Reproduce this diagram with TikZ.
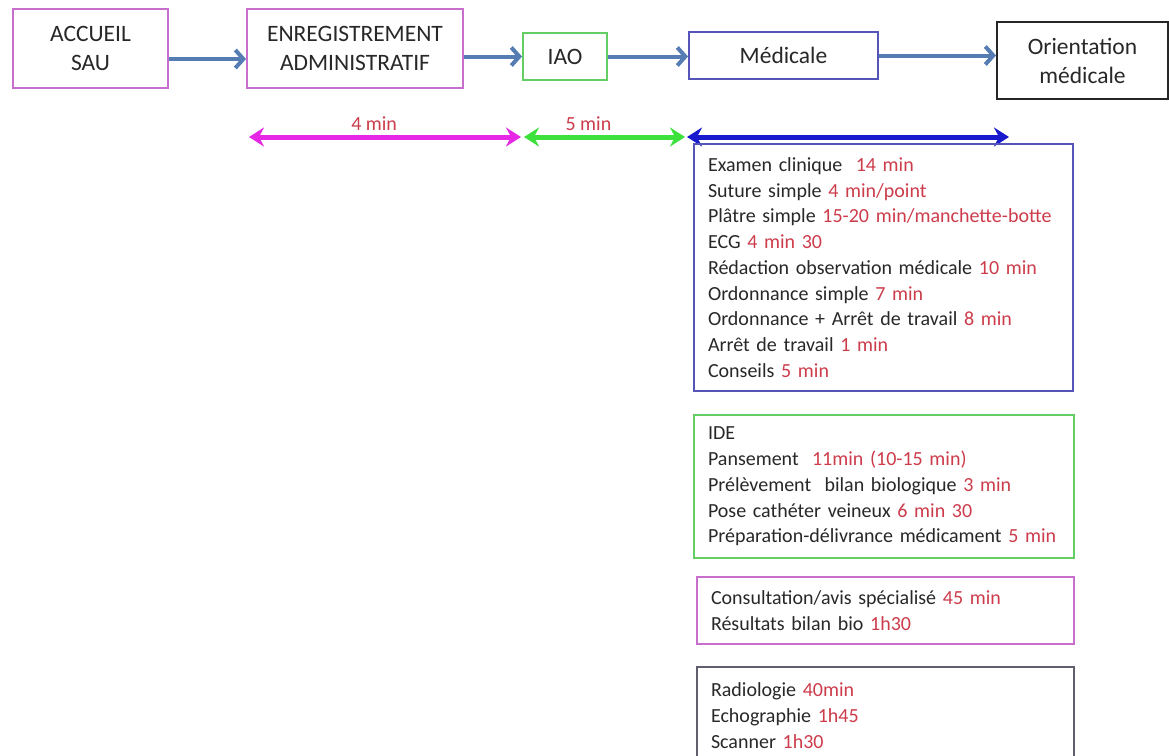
\documentclass[tikz,border=0pt]{standalone}
\usepackage{fontspec}
\setmainfont{Carlito}
\usetikzlibrary{arrows.meta}

\definecolor{boxpink}{RGB}{200,110,205}
\definecolor{boxgreen}{RGB}{100,205,100}
\definecolor{boxblue}{RGB}{85,85,185}
\definecolor{boxgrey}{RGB}{95,95,110}
\definecolor{flowblue}{RGB}{85,125,180}
\definecolor{spanpink}{RGB}{230,40,230}
\definecolor{spangreen}{RGB}{60,225,60}
\definecolor{spanblue}{RGB}{25,25,205}
\definecolor{durred}{RGB}{205,60,75}
\definecolor{txtgrey}{RGB}{40,40,40}

\def\dur#1{\textcolor{durred}{#1}}

\tikzset{
  stagebox/.style={draw, line width=2pt, align=center, text=txtgrey, inner sep=0pt,
    font=\fontsize{23.5}{29}\selectfont},
  listbox/.style={draw, line width=2pt, anchor=north west, align=left, text=txtgrey,
    inner xsep=14pt, inner ysep=0pt, font=\fontsize{20}{25.7}\selectfont},
  flowarrow/.style={flowblue, line width=4pt, -{Straight Barb[length=8pt,width=18pt]}},
  timespan/.style={line width=5pt, {Stealth[length=15pt,width=19pt,inset=5pt]}-{Stealth[length=15pt,width=19pt,inset=5pt]}},
  timelabel/.style={text=durred, font=\fontsize{20}{24}\selectfont, above=1pt}
}

\begin{document}
\begin{tikzpicture}[x=1pt, y=-1pt]
	%%%%% START %%%%%
	\clip (0,0) rectangle (1169,755);
	\fill[white] (0,0) rectangle (1169,755);

	\node[stagebox, draw=boxpink, minimum width=155, minimum height=79] (accueil) at (90.5,48.5) {ACCUEIL\\SAU};
	\node[stagebox, draw=boxpink, minimum width=216, minimum height=79] (enreg) at (355,48.5) {ENREGISTREMENT\\ADMINISTRATIF};
	\node[stagebox, draw=boxgreen, minimum width=84, minimum height=47] (iao) at (565,56.5) {IAO};
	\node[stagebox, draw=boxblue, minimum width=189, minimum height=47] (medicale) at (783.5,55.5) {Médicale};
	\node[stagebox, draw=black!85, minimum width=171, minimum height=77] (orient) at (1082.5,60.5) {Orientation\\médicale};

	\draw[flowarrow] ([yshift=-10.5pt]accueil.east) -- ([yshift=-10.5pt]enreg.west);
	\draw[flowarrow] (enreg.east |- iao.west) -- (iao.west);
	\draw[flowarrow] (iao.east) -- (medicale.west |- iao.east);
	\draw[flowarrow] (medicale.east) -- (orient.west |- medicale.east);

	\coordinate (t1) at (249,137);
	\coordinate (t2) at (521,137);
	\coordinate (t3) at (524,137);
	\coordinate (t4) at (685,137);
	\coordinate (t5) at (687,137);
	\coordinate (t6) at (1009,137);

	\draw[timespan, spanpink] (t1) -- node[timelabel, pos=0.46] (lab4) {4 min} (t2);
	\draw[timespan, spangreen] (t3) -- node[timelabel, pos=0.4] (lab5) {5 min} (t4);
	\draw[timespan, spanblue] (t5) -- (t6);

	\node[listbox, draw=boxblue, text width=351, minimum height=247] (examens) at (693,143) {%
		Examen clinique\ \ \dur{14 min}\\
		Suture simple \dur{4 min/point}\\
		Plâtre simple \dur{15-20 min/manchette-botte}\\
		ECG \dur{4 min 30}\\
		Rédaction observation médicale \dur{10 min}\\
		Ordonnance simple \dur{7 min}\\
		Ordonnance + Arrêt de travail \dur{8 min}\\
		Arrêt de travail \dur{1 min}\\
		Conseils \dur{5 min}};

	\node[listbox, draw=boxgreen, text width=352, minimum height=143] (ide) at (693,414) {%
		IDE\\
		Pansement\ \ \dur{11min (10-15 min)}\\
		Prélèvement\ \ bilan biologique \dur{3 min}\\
		Pose cathéter veineux \dur{6 min 30}\\
		Préparation-délivrance médicament \dur{5 min}};

	\node[listbox, draw=boxpink, text width=349, minimum height=67] (avis) at (696,576) {%
		Consultation/avis spécialisé \dur{45 min}\\
		Résultats bilan bio \dur{1h30}};

	\node[listbox, draw=boxgrey, text width=349, minimum height=97] (imagerie) at (696,666) {%
		Radiologie \dur{40min}\\
		Echographie \dur{1h45}\\
		Scanner \dur{1h30}};
	%%%%% END %%%%%
\end{tikzpicture}
\end{document}
